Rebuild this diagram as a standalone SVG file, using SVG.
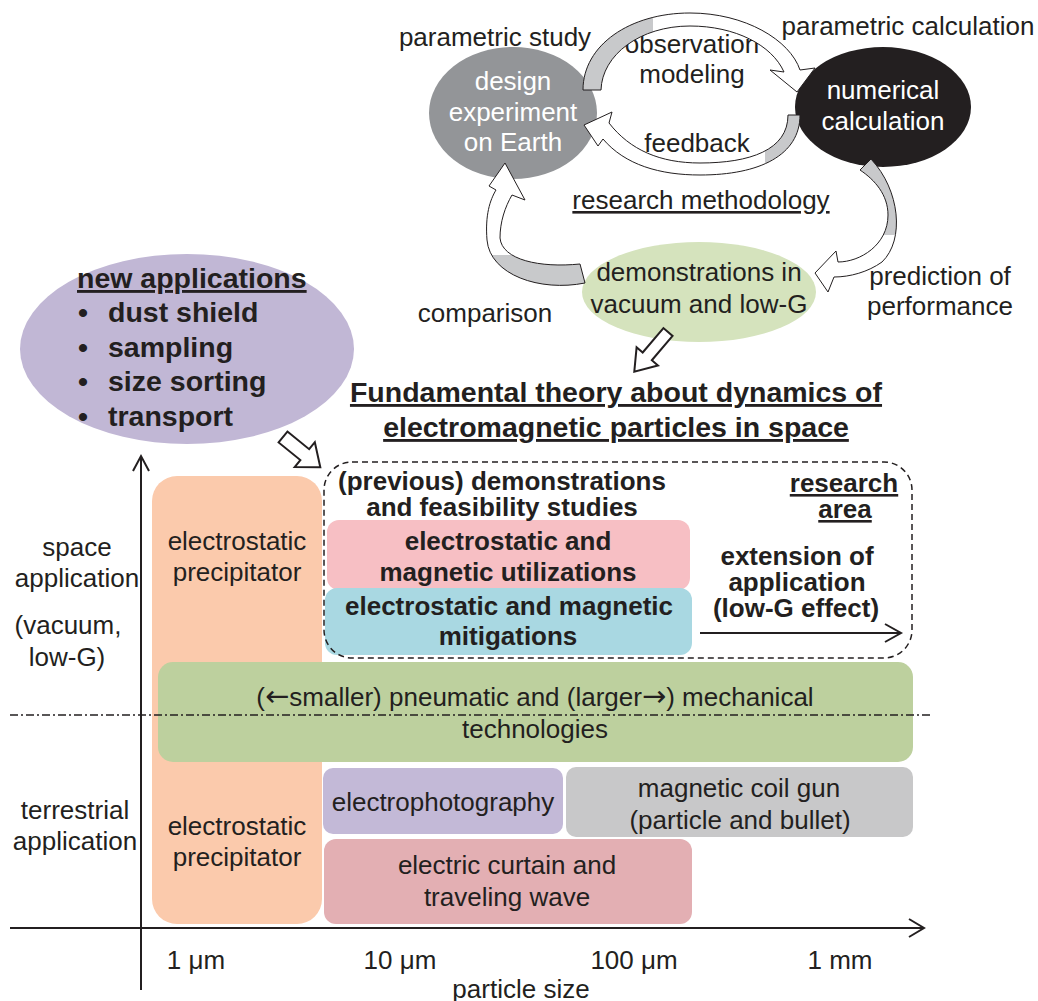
<svg xmlns="http://www.w3.org/2000/svg" width="1038" height="1001" viewBox="0 0 1038 1001">
<style>
text{font-family:"Liberation Sans",Arial,sans-serif;fill:#231f20;}
.r{font-size:26px;}
.b{font-size:26px;font-weight:bold;}
.t{font-size:28.5px;font-weight:bold;}
.u{text-decoration:underline;}
.w{fill:#ffffff;}
.m{text-anchor:middle;}
.ar{font-family:"DejaVu Sans",sans-serif;font-size:29px;}
.ln{stroke:#231f20;stroke-width:2;fill:none;}
.ca{stroke:#231f20;stroke-width:1;}
.ba{fill:#ffffff;stroke:#231f20;stroke-width:2;}
</style>
<defs>
<linearGradient id="gTop" gradientUnits="userSpaceOnUse" x1="583" y1="0" x2="700" y2="0">
<stop offset="0" stop-color="#c8c9cb"/><stop offset="0.6" stop-color="#c8c9cb"/><stop offset="0.6" stop-color="#ffffff"/></linearGradient>
<linearGradient id="gFb" gradientUnits="userSpaceOnUse" x1="800" y1="0" x2="700" y2="0">
<stop offset="0" stop-color="#c8c9cb"/><stop offset="0.35" stop-color="#c8c9cb"/><stop offset="0.35" stop-color="#ffffff"/></linearGradient>
<linearGradient id="gCmp" gradientUnits="userSpaceOnUse" x1="0" y1="200" x2="0" y2="300">
<stop offset="0" stop-color="#ffffff"/><stop offset="0.55" stop-color="#ffffff"/><stop offset="0.55" stop-color="#c8c9cb"/></linearGradient>
<linearGradient id="gPred" gradientUnits="userSpaceOnUse" x1="0" y1="165" x2="0" y2="300">
<stop offset="0" stop-color="#c8c9cb"/><stop offset="0.52" stop-color="#c8c9cb"/><stop offset="0.52" stop-color="#ffffff"/></linearGradient>
</defs>
<rect width="1038" height="1001" fill="#ffffff"/>

<g id="apps">
<ellipse cx="187" cy="349" rx="167" ry="95" fill="#c1b7d5"/>
<text class="t u" x="77" y="288">new applications</text>
<text class="t" x="78" y="322">•</text><text class="t" x="108" y="322">dust shield</text>
<text class="t" x="78" y="357">•</text><text class="t" x="108" y="357">sampling</text>
<text class="t" x="78" y="391">•</text><text class="t" x="108" y="391">size sorting</text>
<text class="t" x="78" y="426">•</text><text class="t" x="108" y="426">transport</text>
</g>

<g id="design">
<ellipse cx="513" cy="113" rx="84" ry="66" fill="#939598"/>
<text class="r w m" x="513" y="90">design</text>
<text class="r w m" x="513" y="121">experiment</text>
<text class="r w m" x="513" y="151">on Earth</text>
</g>
<g id="numerical">
<ellipse cx="883" cy="107" rx="88" ry="60" fill="#231f20"/>
<text class="r w m" x="883" y="99">numerical</text>
<text class="r w m" x="883" y="130">calculation</text>
</g>
<g id="demo">
<ellipse cx="699" cy="292" rx="117" ry="50" fill="#d5e3bd"/>
<text class="r m" x="699" y="281">demonstrations in</text>
<text class="r m" x="699" y="313">vacuum and low-G</text>
</g>
<g id="labels">
<text class="r m" x="495" y="46">parametric study</text>
<text class="r m" x="908" y="35">parametric calculation</text>
<text class="r m" x="692" y="53">observation</text>
<text class="r m" x="692" y="83">modeling</text>
<text class="r m" x="697" y="152">feedback</text>
<text class="r m u" x="701" y="209">research methodology</text>
<text class="r m" x="485" y="322">comparison</text>
<text class="r m" x="940" y="285">prediction of</text>
<text class="r m" x="940" y="315">performance</text>
<text class="t m u" x="616" y="402">Fundamental theory about dynamics of</text>
<text class="t m u" x="616" y="437">electromagnetic particles in space</text>
<text class="r m" x="77" y="556">space</text>
<text class="r m" x="77" y="587">application</text>
<text class="r m" x="68" y="634">(vacuum,</text>
<text class="r m" x="67" y="666">low-G)</text>
<text class="r m" x="75" y="819">terrestrial</text>
<text class="r m" x="75" y="850">application</text>
<text class="r m" x="196" y="969">1 μm</text>
<text class="r m" x="400" y="969">10 μm</text>
<text class="r m" x="634" y="969">100 μm</text>
<text class="r m" x="840" y="969">1 mm</text>
<text class="r m" x="521" y="998">particle size</text>
</g>

<g id="precipitator">
<rect x="152" y="476" width="170" height="448" rx="25" fill="#fbcaac"/>
<text class="r m" x="237" y="550">electrostatic</text>
<text class="r m" x="237" y="581">precipitator</text>
<text class="r m" x="237" y="835">electrostatic</text>
<text class="r m" x="237" y="866">precipitator</text>
</g>
<g id="utilizations">
<rect x="327" y="520" width="363" height="70" rx="12" fill="#f7bfc4"/>
<text class="b m" x="508" y="550">electrostatic and</text>
<text class="b m" x="508" y="581">magnetic utilizations</text>
</g>
<g id="mitigations">
<rect x="325" y="588" width="367" height="67" rx="12" fill="#a9d8e2"/>
<text class="b m" x="509" y="615">electrostatic and magnetic</text>
<text class="b m" x="508" y="645">mitigations</text>
</g>
<g id="research-area">
<rect x="324" y="462" width="588" height="196" rx="28" fill="none" stroke="#231f20" stroke-width="1.5" stroke-dasharray="6,4"/>
<text class="b m" x="502" y="490">(previous) demonstrations</text>
<text class="b m" x="502" y="516">and feasibility studies</text>
<text class="b m u" x="844" y="492">research</text>
<text class="b m u" x="845" y="518">area</text>
<text class="b m" x="797" y="565">extension of</text>
<text class="b m" x="797" y="591">application</text>
<text class="b m" x="796" y="617">(low-G effect)</text>
</g>
<g id="mechanical">
<rect x="158" y="662" width="755" height="100" rx="15" fill="#bdd09e"/>
<text class="r m" x="535" y="706">(<tspan class="ar">←</tspan>smaller) pneumatic and (larger<tspan class="ar">→</tspan>) mechanical</text>
<text class="r m" x="535" y="738">technologies</text>
</g>
<g id="electrophotography">
<rect x="323" y="768" width="240" height="66" rx="10" fill="#c3b9d7"/>
<text class="r m" x="443" y="811">electrophotography</text>
</g>
<g id="coilgun">
<rect x="566" y="767" width="347" height="70" rx="10" fill="#c8c8c9"/>
<text class="r m" x="739" y="797">magnetic coil gun</text>
<text class="r m" x="740" y="829">(particle and bullet)</text>
</g>
<g id="curtain">
<rect x="324" y="839" width="368" height="85" rx="12" fill="#e3afb3"/>
<text class="r m" x="507" y="874">electric curtain and</text>
<text class="r m" x="507" y="906">traveling wave</text>
</g>

<g id="connectors">
<path class="ca" fill="url(#gTop)" d="M583 90 C583 45 630 13 690 13 C745 13 790 40 800 70 L815 68 L797 92 L770 70 L784 72 C772 45 735 26 690 26 C640 26 602 55 601 90 Z"/>
<path class="ca" fill="url(#gFb)" d="M800 115 C800 155 760 175 700 175 C660 175 625 165 603 139 L598 146 L584 125 L612 112 L609 123 C630 150 660 163 700 163 C750 163 788 150 788 115 Z"/>
<path class="ca" fill="url(#gCmp)" d="M585 283 C540 292 490 275 487 240 C485 215 490 200 496 190 L489 186 L505 163 L525 200 L512 195 C505 207 500 222 500 238 C502 260 540 268 580 264 Z"/>
<path class="ca" fill="url(#gPred)" d="M860 170 C875 180 888 195 888 215 C888 245 860 262 838 262 L836 251 L815 273 L828 292 L834 277 C850 277 868 272 882 262 C905 240 900 190 871 159 Z"/>
<polygon class="ba" transform="translate(668,332) rotate(130.4)" points="0,-6 32,-6 32,-14 52,0 32,14 32,6 0,6"/>
<polygon class="ba" transform="translate(283,437) rotate(39)" points="0,-7 28,-7 28,-16 48,0 28,16 28,7 0,7"/>
<line class="ln" x1="141" y1="990" x2="141" y2="456"/>
<polyline class="ln" points="133,471 141,456 149,471"/>
<line class="ln" x1="10" y1="928" x2="924" y2="928"/>
<polyline class="ln" points="909,919 924,928 909,937"/>
<line class="ln" x1="700" y1="633" x2="900" y2="633"/>
<polyline class="ln" points="885,624 901,633 885,642"/>
<line x1="10" y1="715" x2="933" y2="715" stroke="#231f20" stroke-width="1.3" stroke-dasharray="8,3,2,3"/>
</g>
</svg>
